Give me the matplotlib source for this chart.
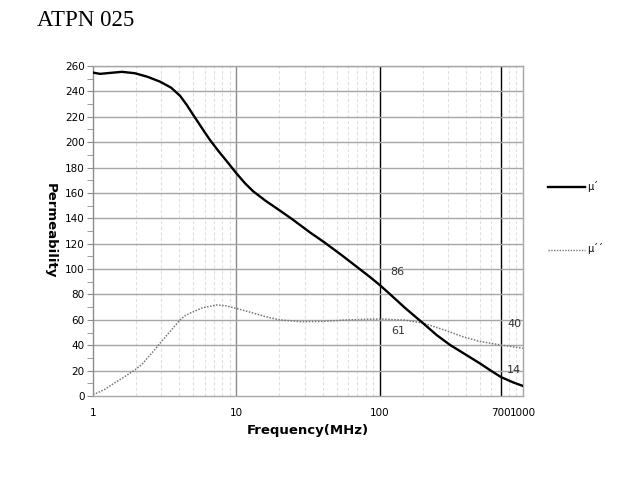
import matplotlib
matplotlib.use("Agg")
import matplotlib.pyplot as plt
from matplotlib.ticker import FixedLocator, NullFormatter, MultipleLocator
from matplotlib.lines import Line2D

# ---- data ----
f_mu1 = [1, 1.12, 1.3, 1.59, 1.96, 2.4, 2.93, 3.5, 4.05, 4.5, 5.0, 5.5, 6.0, 6.55, 7.5,
         8.8, 10, 11.5, 13.1, 16, 19.6, 24.4, 28, 33, 40.5, 55, 69, 85, 100, 120, 150,
         200, 250, 310, 400, 500, 600, 700, 850, 1000]
mu1 = [254.8, 253.8, 254.5, 255.4, 254.3, 251.5, 247.7, 243, 236.5, 229.5, 221.5,
       214.5, 208, 201.7, 193, 183.4, 175.5, 167.6, 161.3, 153.8, 147, 139.5, 134.5, 128.5,
       121.6, 110.5, 101.9, 94, 87.5, 79.5, 69.5, 57.5, 48, 40.2, 32.5, 25.7, 19.8,
       15, 10.8, 7.9]

f_mu2 = [1, 1.2, 1.4, 1.65, 1.96, 2.2, 2.4, 2.65, 2.93, 3.4, 4.05, 4.4, 4.8, 5.8, 7.3,
         8.5, 10, 13, 16, 20, 28, 40, 60, 100, 150, 200, 250, 300, 380, 500, 700, 1000]
mu2 = [1, 5, 10, 15, 20.5, 25, 30, 35.5, 41.5, 50, 60, 63.3, 65.5, 69.5, 71.7,
       71, 69, 65.5, 62.5, 60, 58.6, 58.8, 60, 60.7, 59.8, 57.5, 54, 51, 46.7, 43, 40.2, 37.6]

x_ticks = [1, 10, 100, 700, 1000]
x_ticklabels = ["1", "10", "100", "700", "1000"]
y_ticks = list(range(0, 261, 20))

annotations = [("86", 132, 97.5), ("61", 134, 51), ("40", 870, 57), ("14", 870, 20.5)]
title = "ATPN 025"
legend_labels = ["μ´", "μ´´"]

# ---- figure ----
fig = plt.figure(figsize=(6.33, 4.79), dpi=100)
ax = fig.add_axes([93/633, 1-396/479, (523-93)/633, (396-66)/479])

ax.set_xscale("log")
ax.set_xlim(1, 1000)
ax.set_ylim(0, 260)

# grid
minor_x = [m * d for d in (1, 10, 100) for m in range(2, 10)]
for xv in minor_x:
    if xv == 700:
        continue
    ax.axvline(xv, color="#e0e0e0", lw=0.8, ls=(0, (3, 2)), zorder=0)
ax.axvline(10, color="#8c8c8c", lw=1.0, zorder=0.5)
ax.axvline(100, color="black", lw=1.0, zorder=0.5)
ax.axvline(700, color="black", lw=1.0, zorder=0.5)
for yv in y_ticks[1:]:
    ax.axhline(yv, color="#a6a6a6", lw=1.0, zorder=0.5)

l1, = ax.plot(f_mu1, mu1, color="black", lw=1.7, zorder=3)
l2, = ax.plot(f_mu2, mu2, color="#777777", lw=1.1, ls=(0, (1, 1)), zorder=2)

ax.xaxis.set_major_locator(FixedLocator(x_ticks))
ax.set_xticklabels(x_ticklabels)
ax.xaxis.set_minor_locator(FixedLocator([]))
ax.xaxis.set_minor_formatter(NullFormatter())
ax.tick_params(axis="x", which="both", length=0, labelsize=7.5, pad=9)

ax.set_yticks(y_ticks)
ax.yaxis.set_minor_locator(MultipleLocator(10))
ax.tick_params(axis="y", which="major", length=4, color="#8c8c8c", labelsize=7.5, pad=2)
ax.tick_params(axis="y", which="minor", length=4, color="#8c8c8c")

for s in ax.spines.values():
    s.set_color("#a6a6a6")
    s.set_linewidth(1.0)
ax.spines["left"].set_color("#8c8c8c")

ax.set_xlabel("Frequency(MHz)", fontsize=9.5, fontweight="bold", labelpad=4)
ax.set_ylabel("Permeability", fontsize=9.5, fontweight="bold", rotation=270,
              labelpad=12, va="bottom")
ax.yaxis.set_label_coords(-0.115, 0.5)

for txt, xv, yv in annotations:
    ax.text(xv, yv, txt, fontsize=8, color="#333333", ha="center", va="center")

fig.text(37/633, 1-21/479, title, fontsize=16.5, family="Liberation Serif",
         ha="left", va="center")

# legend (outside right)
fig.add_artist(Line2D([548/633, 585/633], [1-187/479, 1-187/479], color="black", lw=1.7))
fig.add_artist(Line2D([548/633, 585/633], [1-250/479, 1-250/479], color="#777777",
                      lw=1.0, ls=(0, (1, 1))))
fig.text(587/633, 1-186/479, legend_labels[0], fontsize=7, va="center", ha="left")
fig.text(587/633, 1-249/479, legend_labels[1], fontsize=7, va="center", ha="left")

fig.savefig("out.png", dpi=100)
